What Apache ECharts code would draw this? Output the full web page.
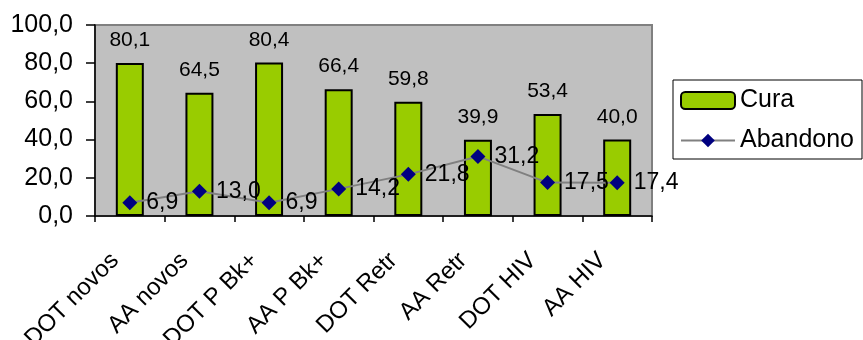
<!DOCTYPE html>
<html>
<head>
<meta charset="utf-8">
<script src="https://cdn.jsdelivr.net/npm/echarts@6/dist/echarts.min.js"></script>
<style>
  html, body { margin: 0; padding: 0; background: #ffffff; }
  #chart { width: 863px; height: 340px; }
</style>
</head>
<body>
<div id="chart"></div>
<script>
// Treatment groups along the category axis
const categories = ['DOT novos', 'AA novos', 'DOT P Bk+', 'AA P Bk+', 'DOT Retr', 'AA Retr', 'DOT HIV', 'AA HIV'];
// Cure rate (%) per group
const cura = [80.1, 64.5, 80.4, 66.4, 59.8, 39.9, 53.4, 40.0];
// Default / abandonment rate (%) per group
const abandono = [6.9, 13.0, 6.9, 14.2, 21.8, 31.2, 17.5, 17.4];
// Value axis ticks
const yTicks = [0, 20, 40, 60, 80, 100];

const FONT = 'Arial, "Liberation Sans", sans-serif';
const fmt = v => Number(v).toFixed(1).replace('.', ',');

const chart = echarts.init(document.getElementById('chart'), null, { renderer: 'canvas' });

chart.setOption({
  animation: false,
  backgroundColor: '#ffffff',
  textStyle: { fontFamily: FONT, color: '#000' },
  grid: {
    left: 95, right: 211, top: 25, bottom: 124,
    containLabel: false,
    outerBoundsMode: 'none',
    show: true,
    backgroundColor: '#C0C0C0',
    borderColor: '#808080',
    borderWidth: 2
  },
  legend: {
    orient: 'vertical',
    left: 673, top: 80,
    padding: [8, 8, 6, 7],
    itemWidth: 54, itemHeight: 17, itemGap: 15,
    borderColor: '#000', borderWidth: 1,
    backgroundColor: '#fff',
    textStyle: { fontFamily: FONT, fontSize: 25, color: '#000' },
    data: ['Cura', 'Abandono']
  },
  xAxis: {
    type: 'category',
    data: categories,
    axisLine: { lineStyle: { color: '#000', width: 1.5 } },
    axisTick: { show: true, length: 6, lineStyle: { color: '#000', width: 1.5 } },
    axisLabel: {
      rotate: 45, margin: 26, padding: [0, 21, 0, 0],
      fontFamily: FONT, fontSize: 24, color: '#000'
    }
  },
  yAxis: {
    type: 'value',
    min: yTicks[0], max: yTicks[yTicks.length - 1], interval: yTicks[1] - yTicks[0],
    splitLine: { show: false },
    axisLine: { show: true, lineStyle: { color: '#000', width: 1.5 } },
    axisTick: { show: true, length: 9, lineStyle: { color: '#000', width: 1.5 } },
    axisLabel: {
      margin: 22, fontFamily: FONT, fontSize: 25, color: '#000',
      formatter: v => fmt(v)
    }
  },
  series: [
    {
      name: 'Cura',
      type: 'bar',
      data: cura,
      barWidth: 28,
      itemStyle: { color: '#99CC00', borderColor: '#000', borderWidth: 2 },
      label: {
        show: true, position: 'top', distance: 12,
        fontFamily: FONT, fontSize: 21, color: '#000',
        formatter: p => fmt(p.value)
      },
      z: 2
    },
    {
      name: 'Abandono',
      type: 'line',
      data: abandono,
      symbol: 'diamond',
      symbolSize: 15,
      itemStyle: { color: '#000080' },
      lineStyle: { color: '#808080', width: 2 },
      label: {
        show: true, position: 'right', distance: 9,
        fontFamily: FONT, fontSize: 23, color: '#000',
        formatter: p => fmt(p.value)
      },
      z: 3
    }
  ]
});
</script>
</body>
</html>
